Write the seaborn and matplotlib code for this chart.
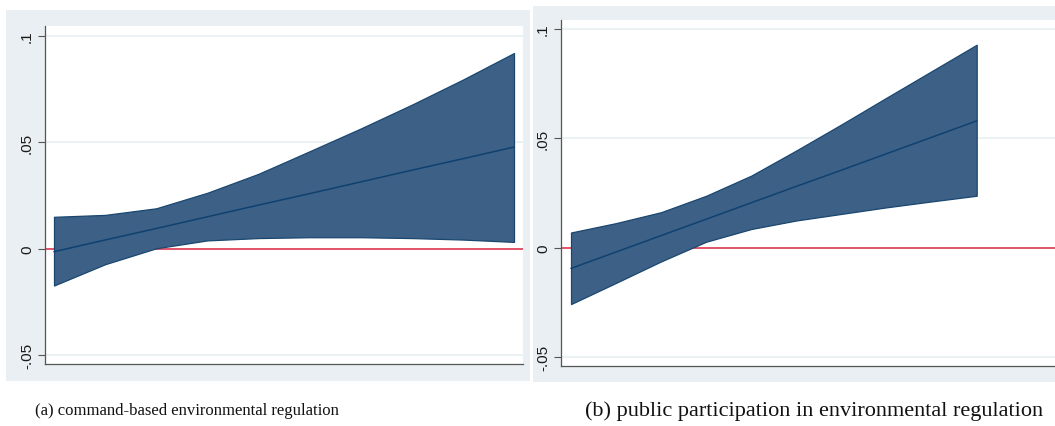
import numpy as np
import pandas as pd
import matplotlib
matplotlib.use("Agg")
import matplotlib.pyplot as plt
import seaborn as sns
from matplotlib.patches import Rectangle

# ---- data ----
x_a = [0, 1, 2, 3, 4, 5, 6, 7, 8, 9]
center_a = [-0.0014, 0.0041, 0.0095, 0.0150, 0.0205, 0.0259, 0.0314, 0.0369, 0.0423, 0.0478]
upper_a = [0.0150, 0.0159, 0.0190, 0.0263, 0.0352, 0.0458, 0.0565, 0.0677, 0.0795, 0.0920]
lower_a = [-0.0173, -0.0073, 0.0002, 0.0039, 0.0050, 0.0054, 0.0054, 0.0050, 0.0043, 0.0032]

x_b = [0, 1, 2, 3, 4, 5, 6, 7, 8, 9]
center_b = [-0.0094, -0.0019, 0.0056, 0.0131, 0.0206, 0.0281, 0.0355, 0.0430, 0.0505, 0.0580]
upper_b = [0.0070, 0.0113, 0.0163, 0.0238, 0.0330, 0.0445, 0.0564, 0.0686, 0.0807, 0.0928]
lower_b = [-0.0257, -0.0160, -0.0062, 0.0028, 0.0086, 0.0125, 0.0155, 0.0185, 0.0212, 0.0238]

ytick_vals = [-0.05, 0, 0.05, 0.1]
ytick_labels = ["-.05", "0", ".05", ".1"]
captions = ["(a) command-based environmental regulation",
            "(b) public participation in environmental regulation"]

# ---- style ----
sns.set_theme(style="white")
plt.rcParams['font.family'] = ['Liberation Sans', 'DejaVu Sans']

W, H = 1055, 427
fig = plt.figure(figsize=(W / 100, H / 100), dpi=100)
fig.patch.set_facecolor("white")

BG = "#e9eff2"
GRID = "#e8f0f2"
FILL = "#3d6087"
EDGE = "#1a476f"
LINE = "#0f4170"
RED = "#e0455e"
AXC = "#555555"


def px_rect(x0, y0, x1, y1):
    return [x0 / W, 1 - y1 / H, (x1 - x0) / W, (y1 - y0) / H]


# background panels (drawn beneath the axes)
fig.patches.append(Rectangle((6 / W, 1 - 382 / H), (530 - 6) / W, (382 - 11) / H,
                             transform=fig.transFigure, facecolor=BG, edgecolor="none", zorder=-10))
fig.patches.append(Rectangle((533 / W, 1 - 383 / H), (1055 - 533) / W, (383 - 7) / H,
                             transform=fig.transFigure, facecolor=BG, edgecolor="none", zorder=-10))

panels = [
    dict(rect=px_rect(45, 27, 523, 365), x=x_a, c=center_a, u=upper_a, l=lower_a,
         xlim=(-0.176, 9.176), ylim=(-0.0542, 0.1047)),
    dict(rect=px_rect(561, 21, 1055, 367), x=x_b, c=center_b, u=upper_b, l=lower_b,
         xlim=(-0.222, 10.737), ylim=(-0.0540, 0.1041)),
]

for p in panels:
    ax = fig.add_axes(p["rect"], zorder=1)
    ax.set_facecolor("white")
    df = pd.DataFrame({"x": p["x"], "center": p["c"], "upper": p["u"], "lower": p["l"]})
    for yv in ytick_vals:
        if yv != 0:
            ax.axhline(yv, color=GRID, lw=1.2, zorder=1)
    ax.fill_between(df["x"], df["lower"], df["upper"], facecolor=FILL,
                    edgecolor=EDGE, linewidth=0.9, zorder=2)
    sns.lineplot(data=df, x="x", y="center", ax=ax, color=LINE, lw=1.1, zorder=3)
    ax.axhline(0, color=RED, lw=1.3, zorder=1.5)
    ax.set_xlim(*p["xlim"])
    ax.set_ylim(*p["ylim"])
    ax.set_xticks([])
    ax.set_yticks(ytick_vals)
    ax.set_yticklabels(ytick_labels, rotation=90, va="center", fontsize=11, color="#1a1a1a")
    ax.tick_params(axis="y", length=5, width=0.8, color=AXC, pad=3, left=True)
    ax.set_xlabel("")
    ax.set_ylabel("")
    for s in ["top", "right"]:
        ax.spines[s].set_visible(False)
    for s in ["left", "bottom"]:
        ax.spines[s].set_color(AXC)
        ax.spines[s].set_linewidth(0.9)

fig.text(187 / W, 1 - 411 / H, captions[0], ha="center", va="center",
         fontsize=12, family=["Liberation Serif", "DejaVu Serif"], color="#111111")
fig.text(814 / W, 1 - 411 / H, captions[1], ha="center", va="center",
         fontsize=16, family=["Liberation Serif", "DejaVu Serif"], color="#111111")

fig.savefig("out.png", dpi=100, facecolor="white")
